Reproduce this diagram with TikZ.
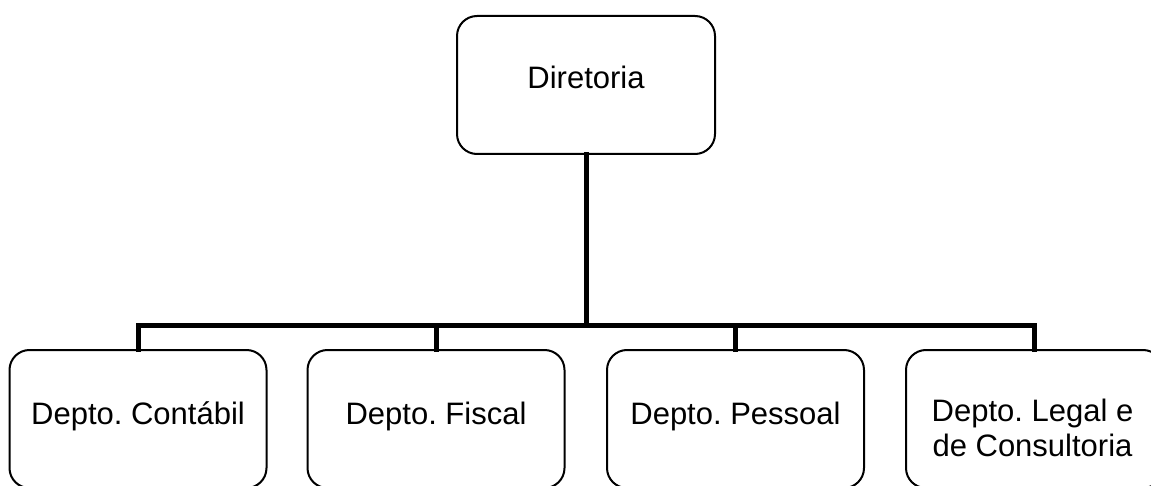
\documentclass[tikz,border=0pt]{standalone}
\usepackage{fontspec}
\setmainfont{Liberation Sans}
\frenchspacing
\begin{document}
\begin{tikzpicture}[x=1pt,y=-1pt,
  orgbox/.style={draw=black,line width=2pt,rounded corners=20pt,fill=white,
    minimum width=257pt,minimum height=138pt,inner sep=0pt,anchor=north west},
  lbl/.style={font=\fontsize{31}{35}\selectfont\frenchspacing,anchor=base,inner sep=0pt,align=center},
  conn/.style={line width=5pt,line join=miter,line cap=rect}]
\useasboundingbox (0,0) rectangle (1151,486);
\clip (0,0) rectangle (1151,486);
\coordinate (bar) at (585,325.5);
\node[orgbox,minimum width=258pt] (top) at (456,15) {};
\node[orgbox] (b1) at (8.5,349) {};
\node[orgbox] (b2) at (306.5,349) {};
\node[orgbox] (b3) at (606,349) {};
\node[orgbox] (b4) at (905,349) {};
\draw[conn] (top.south) -- (top.south |- bar);
\draw[conn] (b1.north) -- (b1.north |- bar) -- (b4.north |- bar) -- (b4.north);
\draw[conn] (b2.north) -- (b2.north |- bar);
\draw[conn] (b3.north) -- (b3.north |- bar);
\node[lbl] (t0) at ([yshift=-4pt]top.center) {Diretoria};
\node[lbl] (t1) at ([yshift=-5pt]b1.center) {Depto. Contábil};
\node[lbl] (t2) at ([yshift=-5pt]b2.center) {Depto. Fiscal};
\node[lbl] (t3) at ([yshift=-5pt]b3.center) {Depto. Pessoal};
\node[lbl] (t4a) at ([xshift=-2pt,yshift=-2pt]b4.center) {Depto. Legal e};
\node[lbl] (t4b) at ([xshift=-2pt,yshift=-37pt]b4.center) {de Consultoria};
\end{tikzpicture}
\end{document}
